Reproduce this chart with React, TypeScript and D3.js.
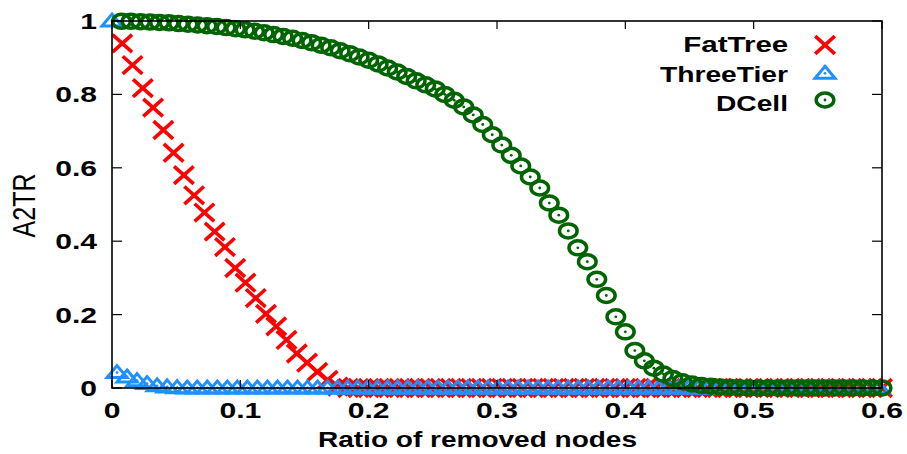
import React from 'react';
import * as d3 from 'd3';

const W = 907;
const H = 454;

const xTicks = [0, 0.1, 0.2, 0.3, 0.4, 0.5, 0.6];
const yTicks = [0, 0.2, 0.4, 0.6, 0.8, 1];
const seriesNames = ['FatTree', 'ThreeTier', 'DCell'];
const seriesColors = ['#ff0000', '#1e90ff', '#006400'];
const xTitle = 'Ratio of removed nodes';
const yTitle = 'A2TR';

// FatTree: sampled every 0.008 starting at 0.008
const fatTreeStep = 0.008;
const fatTreeY = [
  0.939, 0.88, 0.817, 0.764, 0.703, 0.641, 0.58, 0.525, 0.478,
  0.426, 0.384, 0.327, 0.287, 0.245, 0.202, 0.168, 0.131, 0.094, 0.069,
  0.044, 0.022, 0.004, 0, 0, 0, 0, 0, 0, 0,
  0, 0, 0, 0, 0, 0, 0, 0, 0, 0,
  0, 0, 0, 0, 0, 0, 0, 0, 0, 0,
  0, 0, 0, 0, 0, 0, 0, 0, 0, 0,
  0, 0, 0, 0, 0, 0, 0, 0, 0, 0,
  0, 0, 0, 0, 0, 0,
];

// ThreeTier: first point at x = 0, then sampled every 1/128 (offset by half a step)
const threeTierStep = 1 / 128;
const threeTierY = [
  1.0, 0.042, 0.03, 0.02, 0.012, 0.006, 0.003, 0.001, 0, 0,
  0, 0, 0, 0, 0, 0, 0, 0, 0, 0,
  0, 0, 0, 0, 0, 0, 0, 0, 0, 0,
  0, 0, 0, 0, 0, 0, 0, 0, 0, 0,
  0, 0, 0, 0, 0, 0, 0, 0, 0, 0,
  0, 0, 0, 0, 0, 0, 0, 0, 0, 0,
  0, 0, 0, 0, 0, 0, 0, 0, 0, 0,
  0, 0, 0, 0, 0, 0, 0, 0,
];

// DCell: sampled every 1/135 starting at 1/135
const dcellStep = 1 / 135;
const dcellY = [
  0.999, 0.999, 0.998, 0.997, 0.996, 0.995, 0.993, 0.991, 0.989, 0.987,
  0.985, 0.982, 0.979, 0.976, 0.972, 0.968, 0.963, 0.958, 0.953, 0.947,
  0.941, 0.934, 0.927, 0.919, 0.911, 0.902, 0.893, 0.883, 0.872, 0.861,
  0.849, 0.837, 0.826, 0.815, 0.8, 0.784, 0.766, 0.744, 0.718, 0.69,
  0.662, 0.634, 0.605, 0.575, 0.545, 0.504, 0.471, 0.428, 0.382, 0.344,
  0.296, 0.252, 0.194, 0.153, 0.102, 0.074, 0.054, 0.038, 0.026, 0.017,
  0.011, 0.007, 0.005, 0.003, 0.002, 0.001, 0, 0, 0, 0,
  0, 0, 0, 0, 0, 0, 0, 0, 0, 0,
  0,
];

const fatTree = fatTreeY.map((v, i) => ({ x: (i + 1) * fatTreeStep, y: v }));
const threeTier = threeTierY.map((v, i) => ({ x: i === 0 ? 0 : (i - 0.5) * threeTierStep, y: v }));
const dcell = dcellY.map((v, i) => ({ x: (i + 1) * dcellStep, y: v }));

const PL = 112, PR = 882, PT = 21, PB = 388;
const SX = 1.4; // horizontal stretch of the glyphs

const Cross = ({ cx, cy }: { cx: number; cy: number }) => (
  <g transform={`translate(${cx},${cy})`} stroke={seriesColors[0]} strokeWidth={3.6} fill="none">
    <line x1={-9.8} y1={-8.8} x2={9.8} y2={8.8} />
    <line x1={-9.8} y1={8.8} x2={9.8} y2={-8.8} />
  </g>
);

const Tri = ({ cx, cy }: { cx: number; cy: number }) => (
  <g transform={`translate(${cx},${cy})`}>
    <polygon points="0,-7 10,5 -10,5" stroke={seriesColors[1]} strokeWidth={3} fill="none" strokeLinejoin="miter" />
    <circle cx={0} cy={0} r={1.4} fill={seriesColors[1]} />
  </g>
);

const Ring = ({ cx, cy }: { cx: number; cy: number }) => (
  <g transform={`translate(${cx},${cy})`}>
    <ellipse cx={0} cy={0} rx={8.8} ry={7} stroke={seriesColors[2]} strokeWidth={3.5} fill="none" />
    <circle cx={0} cy={0} r={1.4} fill={seriesColors[2]} />
  </g>
);

export default function App() {
  const x = d3.scaleLinear().domain([0, 0.6]).range([PL, PR]);
  const y = d3.scaleLinear().domain([0, 1]).range([PB, PT]);
  const fmt = (t: number) => String(+t.toFixed(1));
  const font = "'Liberation Sans', Arial, Helvetica, sans-serif";

  return (
    <svg
      width={W}
      height={H}
      style={{ position: 'absolute', left: 0, top: 0, background: '#fff' }}
      fontFamily={font}
    >
      <rect x={0} y={0} width={W} height={H} fill="#fff" />

      {/* data */}
      <g>
        {fatTree.map((d, i) => (
          <Cross key={'f' + i} cx={x(d.x)} cy={y(d.y)} />
        ))}
      </g>
      <g>
        {threeTier.map((d, i) => (
          <Tri key={'t' + i} cx={x(d.x)} cy={y(d.y)} />
        ))}
      </g>
      <g>
        {dcell.map((d, i) => (
          <Ring key={'d' + i} cx={x(d.x)} cy={y(d.y)} />
        ))}
      </g>

      {/* ticks */}
      <g stroke="#000" strokeWidth={1.2}>
        {yTicks.map((t) => (
          <g key={'yt' + t}>
            <line x1={PL} x2={PL + 10} y1={y(t)} y2={y(t)} />
            <line x1={PR} x2={PR - 10} y1={y(t)} y2={y(t)} />
          </g>
        ))}
        {xTicks.map((t) => (
          <g key={'xt' + t}>
            <line x1={x(t)} x2={x(t)} y1={PB} y2={PB - 8} />
            <line x1={x(t)} x2={x(t)} y1={PT} y2={PT + 8} />
          </g>
        ))}
      </g>

      {/* border */}
      <rect x={PL} y={PT} width={PR - PL} height={PB - PT} fill="none" stroke="#000" strokeWidth={1.6} />

      {/* tick labels */}
      <g fontWeight="bold" fontSize={21.5} fill="#000">
        {yTicks.map((t) => (
          <text key={'yl' + t} transform={`translate(97,${y(t) + 8}) scale(${SX},1)`} textAnchor="end">
            {fmt(t)}
          </text>
        ))}
        {xTicks.map((t) => (
          <text key={'xl' + t} transform={`translate(${x(t)},418) scale(${SX},1)`} textAnchor="middle">
            {fmt(t)}
          </text>
        ))}
      </g>

      {/* axis titles */}
      <text x={318} y={446.5} fontSize={21.5} fontWeight="bold" textLength={319} lengthAdjust="spacingAndGlyphs" fill="#000">
        {xTitle}
      </text>
      <text transform={`translate(35,205.5) scale(1.25,1) rotate(-90)`} fontSize={25} textAnchor="middle" fill="#000">
        {yTitle}
      </text>

      {/* legend */}
      <g fontSize={21.5} fontWeight="bold" fill="#000">
        <text x={683.3} y={51.7} textLength={105} lengthAdjust="spacingAndGlyphs">{seriesNames[0]}</text>
        <text x={660} y={81.7} textLength={128} lengthAdjust="spacingAndGlyphs">{seriesNames[1]}</text>
        <text x={716} y={110.7} textLength={72} lengthAdjust="spacingAndGlyphs">{seriesNames[2]}</text>
      </g>
      <Cross cx={825} cy={45} />
      <Tri cx={825} cy={73.3} />
      <Ring cx={825} cy={100} />
    </svg>
  );
}
